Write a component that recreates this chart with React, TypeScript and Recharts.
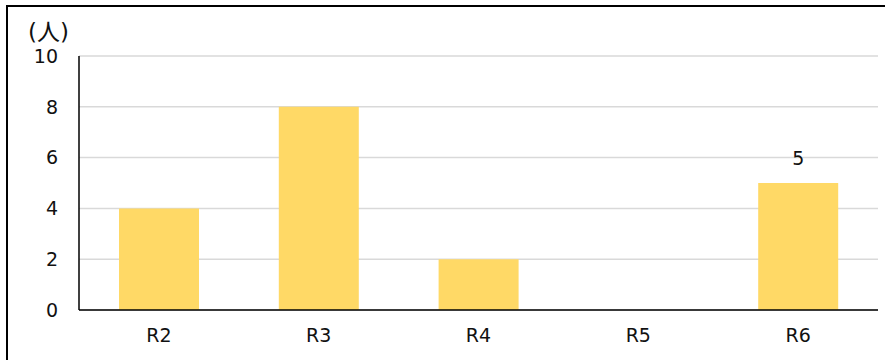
import { BarChart, Bar, XAxis, YAxis, CartesianGrid, LabelList } from 'recharts'

const categories = ['R2', 'R3', 'R4', 'R5', 'R6']
const counts = [4, 8, 2, 0, 5]
const shownLabels = ['', '', '', '', '5']
const yTicks = [0, 2, 4, 6, 8, 10]

const data = categories.map((name, i) => ({
  name,
  value: counts[i],
  label: shownLabels[i]
}))

const font = '"DejaVu Sans", "Noto Sans CJK JP", sans-serif'
const textColor = '#111111'

export default function App() {
  return (
    <div style={{ position: 'absolute', left: 0, top: 0, width: 885, height: 360, overflow: 'hidden', background: '#fff', fontFamily: font }}>
      <div
        style={{
          position: 'absolute',
          left: 6,
          top: 5,
          width: 920,
          height: 420,
          borderLeft: '2px solid #000',
          borderTop: '2px solid #000'
        }}
      />
      <div
        style={{
          position: 'absolute',
          left: 28,
          top: 16,
          fontSize: 23,
          color: textColor,
          lineHeight: '32px'
        }}
      >
        (人)
      </div>
      <div style={{ position: 'absolute', left: 0, top: 0 }}>
        <BarChart
          width={885}
          height={360}
          data={data}
          margin={{ top: 56, right: 7, bottom: 10, left: 19 }}
        >
          <CartesianGrid vertical={false} stroke="#d9d9d9" strokeWidth={1.5} />
          <XAxis
            dataKey="name"
            height={40}
            tickLine={false}
            tickMargin={13}
            fontSize={19}
            fontFamily={font}
            axisLine={{ stroke: '#000', strokeWidth: 1.5 }}
            tick={{ fill: textColor, fontSize: 19, fontFamily: font }}
          />
          <YAxis
            width={60}
            domain={[0, 10]}
            ticks={yTicks}
            tickLine={false}
            tickMargin={15}
            fontSize={19}
            fontFamily={font}
            axisLine={{ stroke: '#000', strokeWidth: 1.5 }}
            tick={{ fill: textColor, fontSize: 19, fontFamily: font }}
          />
          <Bar dataKey="value" fill="#FFD966" barSize={80} isAnimationActive={false}>
            <LabelList
              dataKey="label"
              position="top"
              offset={18}
              fill={textColor}
              fontSize={19}
              fontFamily={font}
            />
          </Bar>
        </BarChart>
      </div>
    </div>
  )
}
